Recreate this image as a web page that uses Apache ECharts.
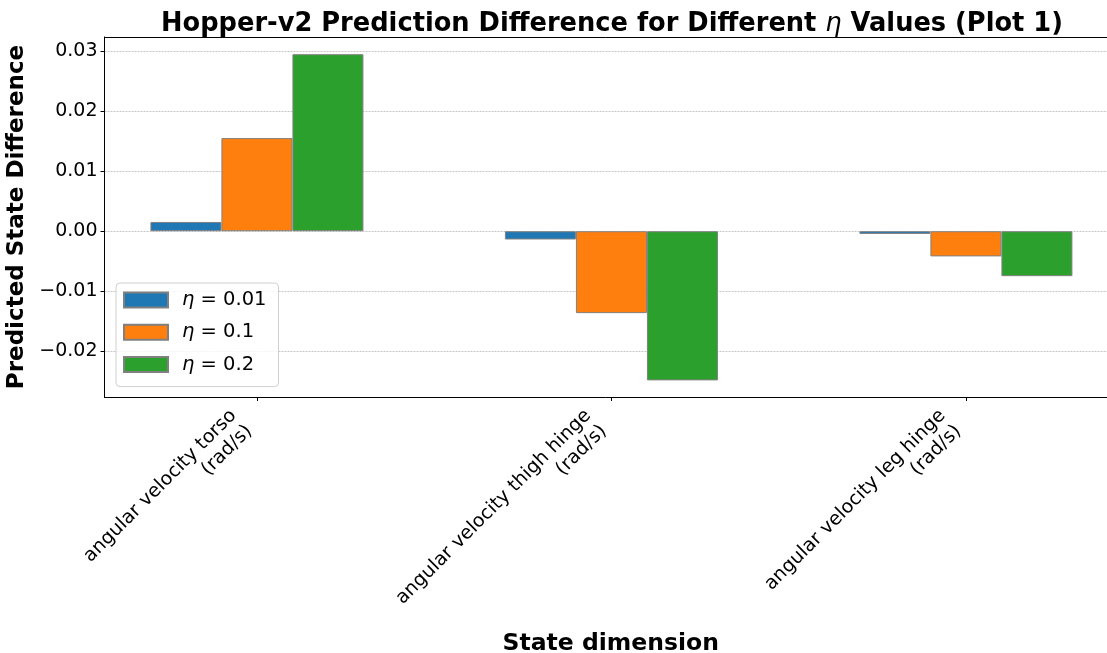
<!DOCTYPE html>
<html>
<head>
<meta charset="utf-8">
<script src="https://cdn.jsdelivr.net/npm/echarts@6/dist/echarts.min.js"></script>
<style>html,body{margin:0;padding:0;background:#fff;}#c{width:1107px;height:653px;}</style>
</head>
<body>
<div id="c"></div>
<script>
const categories = ['angular velocity torso\n(rad/s)', 'angular velocity thigh hinge\n(rad/s)', 'angular velocity leg hinge\n(rad/s)'];
const seriesNames = ['η = 0.01', 'η = 0.1', 'η = 0.2'];
const eta001 = [0.00155, -0.00138, -0.00045];
const eta01 = [0.01555, -0.01367, -0.0042];
const eta02 = [0.02955, -0.0249, -0.0075];
const yTicks = [-0.02, -0.01, 0.00, 0.01, 0.02, 0.03];
const colors = ['#1f77b4', '#ff7f0e', '#2ca02c'];

const FONT = 'DejaVu Sans';
const catIdx = categories.map((c, i) => i);
function mk(vals) { return vals.map((v, i) => [i, v]); }
const allSeries = [eta001, eta01, eta02];

const chart = echarts.init(document.getElementById('c'), null, {renderer: 'canvas'});
chart.setOption({
  animation: false,
  backgroundColor: '#fff',
  title: {
    text: 'Hopper-v2 Prediction Difference for Different {i|η} Values (Plot 1)',
    left: 607, top: 6, textAlign: 'center',
    textStyle: {
      fontFamily: FONT, fontWeight: 'bold', fontSize: 25.7, color: '#000',
      rich: { i: { fontFamily: FONT, fontStyle: 'italic', fontWeight: 'normal', fontSize: 25.7, color: '#000' } }
    }
  },
  legend: {
    orient: 'vertical', left: 116, top: 283,
    itemWidth: 44, itemHeight: 15, itemGap: 10.3, icon: 'rect',
    padding: [6, 12, 11, 7],
    backgroundColor: 'rgba(255,255,255,0.8)',
    borderColor: '#d0d0d0', borderWidth: 1, borderRadius: 4,
    data: seriesNames,
    formatter: n => n.replace('η = ', '{i|η}{s| = }'),
    textStyle: {
      fontFamily: FONT, fontSize: 19.5, color: '#000', lineHeight: 22, padding: [0, 0, 0, 9],
      rich: {
        i: { fontFamily: FONT, fontStyle: 'italic', fontSize: 19.5, color: '#000', lineHeight: 22 },
        s: { fontFamily: FONT, fontSize: 19.5, color: '#000', lineHeight: 22 }
      }
    }
  },
  grid: { left: 104.5, right: 0, top: 37, bottom: 256, containLabel: false, outerBoundsMode: 'none' },
  xAxis: [{
    type: 'value', min: -0.43, max: 2.398,
    name: 'State dimension', nameLocation: 'middle', nameGap: 228,
    nameTextStyle: { fontFamily: FONT, fontWeight: 'bold', fontSize: 23.5, color: '#000', padding: [0, 0, 0, 10] },
    axisLine: { show: true, onZero: false, lineStyle: { color: '#000', width: 1 } },
    axisTick: { show: true, length: 4, customValues: catIdx, lineStyle: { color: '#000' } },
    axisLabel: {
      customValues: catIdx, rotate: 45, margin: 39, verticalAlign: 'bottom', align: 'right',
      fontFamily: FONT, fontSize: 19, color: '#000', lineHeight: 22,
      formatter: v => categories[Math.round(v)]
    },
    splitLine: { show: false }
  }, {
    type: 'value', min: -0.43, max: 2.398, position: 'top',
    axisLine: { show: true, onZero: false, lineStyle: { color: '#000', width: 1 } },
    axisTick: { show: false }, axisLabel: { show: false }, splitLine: { show: false }
  }],
  yAxis: {
    type: 'value', min: -0.02767, max: 0.03242,
    name: 'Predicted State Difference', nameLocation: 'middle', nameGap: 64,
    nameTextStyle: { fontFamily: FONT, fontWeight: 'bold', fontSize: 23, color: '#000' },
    axisLine: { show: true, onZero: false, lineStyle: { color: '#000', width: 1 } },
    axisTick: { show: true, length: 4, customValues: yTicks, lineStyle: { color: '#000' } },
    axisLabel: {
      customValues: yTicks, margin: 7,
      fontFamily: FONT, fontSize: 19, color: '#000',
      formatter: v => (v < 0 ? '\u2212' : '') + Math.abs(v).toFixed(2)
    },
    splitLine: { show: true, lineStyle: { color: '#b8b8b8', type: [2, 1], width: 0.8 } }
  },
  series: allSeries.map((vals, k) => ({
    name: seriesNames[k], type: 'bar', xAxisIndex: 0,
    data: mk(vals), barWidth: 71, barGap: '0%',
    itemStyle: { color: colors[k], borderColor: '#808080', borderWidth: 1 }
  }))
});
</script>
</body>
</html>
